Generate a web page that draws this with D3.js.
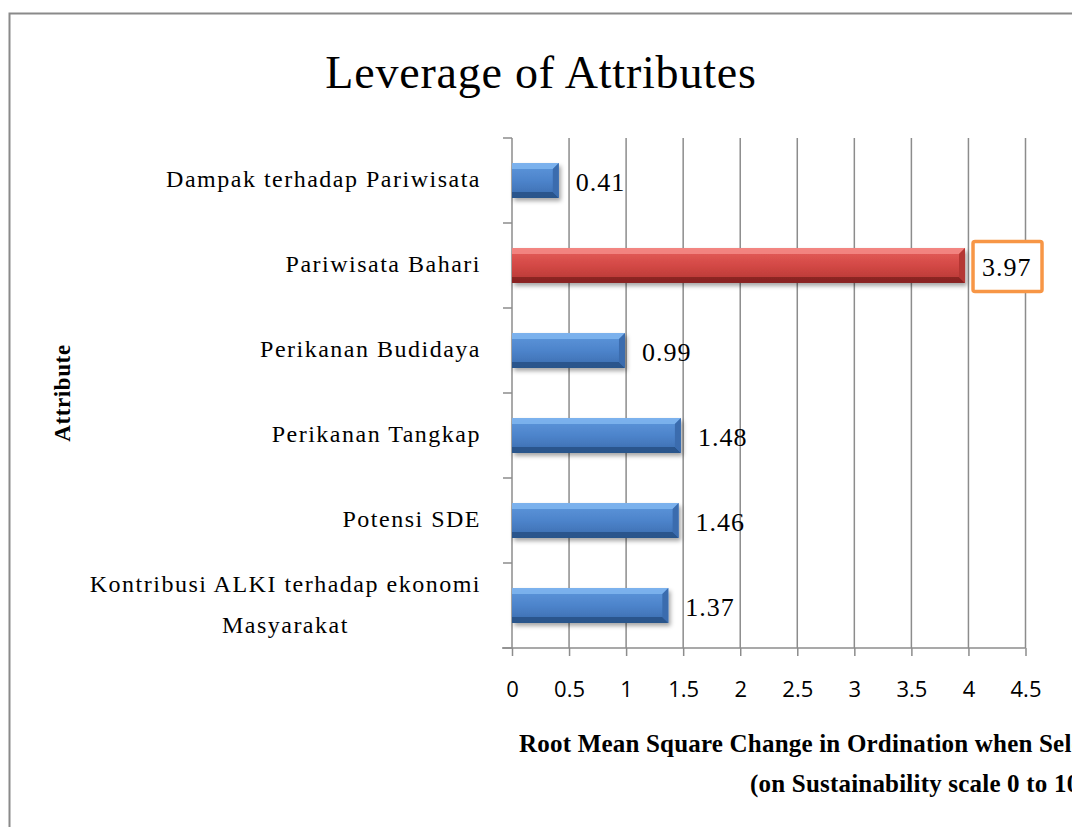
<!DOCTYPE html>
<html>
<head>
<meta charset="utf-8">
<script src="https://cdn.jsdelivr.net/npm/d3@7"></script>
<style>
    body { margin: 0; background: #fff; }
    svg { display: block; }
    .serif { font-family: 'Liberation Serif', 'Times New Roman', serif; fill: #000; }
    .tick-label { font-family: 'Open Sans', 'Noto Sans', sans-serif; font-size: 22px; fill: #000; }
</style>
</head>
<body>
<div id="chart"></div>
<script>
// chart data, top to bottom
const categories = [
    'Dampak terhadap Pariwisata',
    'Pariwisata Bahari',
    'Perikanan Budidaya',
    'Perikanan Tangkap',
    'Potensi SDE',
    'Kontribusi ALKI terhadap ekonomi Masyarakat'
];
const values = [0.41, 3.97, 0.99, 1.48, 1.46, 1.37];
const highlighted = ['Pariwisata Bahari'];
const xTicks = [0, 0.5, 1, 1.5, 2, 2.5, 3, 3.5, 4, 4.5];

const title = 'Leverage of Attributes';
const yTitle = 'Attribute';
const xTitle = ['Root Mean Square Change in Ordination when Selected Attribute Removed',
                '(on Sustainability scale 0 to 100)'];

const width = 1072;
const height = 827;
const plot = { left: 512, right: 1025.5, top: 138, bottom: 648 };

const data = categories.map((c, i) => ({ name: c, value: values[i], hot: highlighted.includes(c) }));

const svg = d3.select('#chart')
    .append('svg')
        .attr('width', width)
        .attr('height', height);

const defs = svg.append('defs');

const shadow = defs.append('filter')
    .attr('id', 'shadow')
    .attr('x', '-10%').attr('y', '-30%')
    .attr('width', '130%').attr('height', '180%');
shadow.append('feDropShadow')
    .attr('dx', 2).attr('dy', 3)
    .attr('stdDeviation', 2)
    .attr('flood-color', '#000')
    .attr('flood-opacity', 0.35);

const palettes = {
    blue: { light: '#80b6f0', top: '#5e97dc', mid: '#4d84cb', bottom: '#3a6cae', dark: '#244d82' },
    red: { light: '#f58b87', top: '#e6605c', mid: '#d34845', bottom: '#b43734', dark: '#7e1f1d' }
};

Object.entries(palettes).forEach(([key, p]) => {
    const g = defs.append('linearGradient')
        .attr('id', `grad-${key}`)
        .attr('x1', 0).attr('y1', 0).attr('x2', 0).attr('y2', 1);
    g.append('stop').attr('offset', '0%').attr('stop-color', p.top);
    g.append('stop').attr('offset', '50%').attr('stop-color', p.mid);
    g.append('stop').attr('offset', '100%').attr('stop-color', p.bottom);
});

// outer frame
svg.append('rect')
    .attr('x', 9.5)
    .attr('y', 13.5)
    .attr('width', width + 20)
    .attr('height', height + 20)
    .attr('fill', '#fff')
    .attr('stroke', '#8a8a8a')
    .attr('stroke-width', 2);

const xScale = d3.scaleLinear()
    .domain([0, 4.5])
    .range([plot.left, plot.right]);

const yScale = d3.scaleBand()
    .domain(categories)
    .range([plot.top, plot.bottom])
    .paddingInner(0.59)
    .paddingOuter(0.295);

// vertical gridlines
svg.append('g')
    .selectAll('line')
    .data(xTicks.slice(1))
    .join('line')
        .attr('x1', d => xScale(d))
        .attr('x2', d => xScale(d))
        .attr('y1', plot.top)
        .attr('y2', plot.bottom)
        .attr('stroke', '#8c8c8c')
        .attr('stroke-width', 1.5);

// x axis
const xAxis = svg.append('g')
    .attr('transform', `translate(0, ${plot.bottom})`)
    .call(d3.axisBottom(xScale)
        .tickValues(xTicks)
        .tickSize(8)
        .tickPadding(25)
        .tickFormat(d => d));
xAxis.select('.domain').remove();
xAxis.selectAll('.tick line').attr('stroke', '#8c8c8c').attr('stroke-width', 1.5);
xAxis.selectAll('text').attr('class', 'tick-label').attr('font-size', null).attr('font-family', null);
xAxis.append('line')
    .attr('x1', plot.left - 10)
    .attr('x2', plot.right)
    .attr('stroke', '#8c8c8c')
    .attr('stroke-width', 1.5);

// y axis line and band ticks
const bandEdges = categories.map(c => yScale(c) - yScale.step() * yScale.paddingInner() / 2)
    .concat([plot.bottom]);
const yAxis = svg.append('g');
yAxis.append('line')
    .attr('x1', plot.left).attr('x2', plot.left)
    .attr('y1', plot.top).attr('y2', plot.bottom)
    .attr('stroke', '#8c8c8c')
    .attr('stroke-width', 1.5);
yAxis.selectAll('.ytick')
    .data(bandEdges)
    .join('line')
        .classed('ytick', true)
        .attr('x1', plot.left - 9).attr('x2', plot.left)
        .attr('y1', d => d).attr('y2', d => d)
        .attr('stroke', '#8c8c8c')
        .attr('stroke-width', 1.5);

// category labels
const catLabels = svg.append('g');
data.forEach(d => {
    const cy = yScale(d.name) + yScale.bandwidth() / 2;
    const t = catLabels.append('text')
        .attr('class', 'serif')
        .attr('font-size', 24)
        .attr('letter-spacing', 1.5)
        .attr('text-anchor', 'end')
        .attr('x', 481);
    if (d.name.startsWith('Kontribusi')) {
        const lines = ['Kontribusi ALKI terhadap ekonomi', 'Masyarakat'];
        t.attr('y', cy - 14).text(lines[0]);
        const w = t.node().getComputedTextLength();
        catLabels.append('text')
            .attr('class', 'serif')
            .attr('font-size', 24)
            .attr('letter-spacing', 1.5)
            .attr('text-anchor', 'middle')
            .attr('x', 481 - w / 2)
            .attr('y', cy + 27)
            .text(lines[1]);
    } else {
        t.attr('y', cy + 6).text(d.name);
    }
});

// bars with bevel
const bevel = 6;
const bars = svg.append('g');
data.forEach(d => {
    const p = d.hot ? palettes.red : palettes.blue;
    const x0 = xScale(0);
    const x1 = xScale(d.value);
    const y0 = yScale(d.name);
    const y1 = y0 + yScale.bandwidth();
    const g = bars.append('g').attr('filter', 'url(#shadow)');
    g.append('rect')
        .attr('x', x0).attr('y', y0)
        .attr('width', x1 - x0).attr('height', y1 - y0)
        .attr('fill', `url(#grad-${d.hot ? 'red' : 'blue'})`);
    g.append('polygon')
        .attr('points', [[x0, y0], [x1, y0], [x1 - bevel, y0 + bevel], [x0, y0 + bevel]].join(' '))
        .attr('fill', p.light)
        .attr('opacity', 0.85);
    g.append('polygon')
        .attr('points', [[x0, y1], [x1, y1], [x1 - bevel, y1 - bevel], [x0, y1 - bevel]].join(' '))
        .attr('fill', p.dark)
        .attr('opacity', 0.8);
    g.append('polygon')
        .attr('points', [[x1, y0], [x1, y1], [x1 - bevel, y1 - bevel], [x1 - bevel, y0 + bevel]].join(' '))
        .attr('fill', p.bottom);
});

// value labels
const valLabels = svg.append('g');
data.forEach(d => {
    const cy = yScale(d.name) + yScale.bandwidth() / 2;
    const x = xScale(d.value) + 17;
    if (d.hot) {
        valLabels.append('rect')
            .attr('x', x - 9).attr('y', cy - 24)
            .attr('width', 69).attr('height', 50)
            .attr('rx', 2)
            .attr('fill', '#fff')
            .attr('stroke', '#f79646')
            .attr('stroke-width', 3.5);
    }
    valLabels.append('text')
        .attr('class', 'serif')
        .attr('font-size', 26)
        .attr('letter-spacing', 1)
        .attr('x', x)
        .attr('y', cy + 10)
        .text(d.value.toFixed(2));
});

// title
svg.append('text')
    .attr('class', 'serif')
    .attr('font-size', 46)
    .attr('letter-spacing', 0.8)
    .attr('text-anchor', 'middle')
    .attr('x', 541)
    .attr('y', 88)
    .text(title);

// y axis title
svg.append('text')
    .attr('class', 'serif')
    .attr('font-size', 23)
    .attr('font-weight', 'bold')
    .attr('letter-spacing', 0.6)
    .attr('text-anchor', 'middle')
    .attr('transform', 'translate(70, 393) rotate(-90)')
    .text(yTitle);

// x axis title
svg.append('text')
    .attr('class', 'serif')
    .attr('font-size', 25)
    .attr('font-weight', 'bold')
    .attr('letter-spacing', 0.2)
    .attr('x', 519)
    .attr('y', 752)
    .text(xTitle[0]);
svg.append('text')
    .attr('class', 'serif')
    .attr('font-size', 25)
    .attr('font-weight', 'bold')
    .attr('letter-spacing', 0.2)
    .attr('x', 750)
    .attr('y', 792)
    .text(xTitle[1]);
</script>
</body>
</html>
